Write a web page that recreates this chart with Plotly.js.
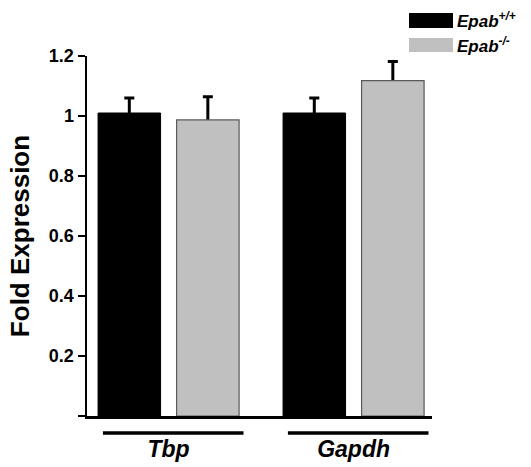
<!DOCTYPE html>
<html>
<head>
<meta charset="utf-8">
<script src="https://cdn.plot.ly/plotly-3.0.1.min.js"></script>
<style>html,body{margin:0;padding:0;background:#fff;}#chart{width:531px;height:467px;}</style>
</head>
<body>
<div id="chart"></div>
<script>
// ---- data ----
const genes = ['Tbp', 'Gapdh'];
const seriesNames = ['Epab<sup>+/+</sup>', 'Epab<sup>-/-</sup>'];
const wtMean = [1.01, 1.01];
const wtErr = [0.05, 0.05];
const koMean = [0.987, 1.118];
const koErr = [0.077, 0.064];
const yTickVals = [0, 0.2, 0.4, 0.6, 0.8, 1, 1.2];
const yTickText = ['', '0.2', '0.4', '0.6', '0.8', '1', '1.2'];

// ---- layout geometry (pixels) ----
const W = 531, H = 467;
const L = 87, R = 432, T = 56, B = 416;
const px = x => (x - L) / (R - L);
const py = y => (B - y) / (B - T);
const FONT = '"Liberation Sans", Arial, Helvetica, sans-serif';
const colors = ['#000000', '#c0c0c0'];
const lineColors = ['#000000', '#5a5a5a'];
const means = [wtMean, koMean];
const errs = [wtErr, koErr];

const traces = [];
// error bars first (transparent bars), so the visible bars hide their lower half
means.forEach((m, i) => {
  traces.push({type: 'bar', x: genes, y: m, name: seriesNames[i], offsetgroup: 'g' + i,
    marker: {color: 'rgba(0,0,0,0)', line: {width: 0}}, hoverinfo: 'skip',
    error_y: {type: 'data', array: errs[i], color: '#000', thickness: 3, width: 5}});
});
means.forEach((m, i) => {
  traces.push({type: 'bar', x: genes, y: m, name: seriesNames[i], offsetgroup: 'g' + i,
    marker: {color: colors[i], line: {color: lineColors[i], width: i ? 1.2 : 1}}});
});

const shapes = [];
const annotations = [];
// group underlines
genes.forEach((g, i) => {
  shapes.push({type: 'line', xref: 'x', yref: 'paper', x0: i - 0.355, x1: i + 0.405,
    y0: py(433), y1: py(433), line: {color: '#000', width: 3.5}});
});
// legend swatches + labels
const legY = [[13, 28], [38, 52]];
seriesNames.forEach((n, i) => {
  shapes.push({type: 'rect', xref: 'paper', yref: 'paper', x0: px(409), x1: px(453),
    y0: py(legY[i][1]), y1: py(legY[i][0]), fillcolor: colors[i], line: {width: 0}});
  annotations.push({xref: 'paper', yref: 'paper', x: px(455), y: py((legY[i][0] + legY[i][1]) / 2),
    xanchor: 'left', yanchor: 'middle', showarrow: false, text: '<b><i>' + n + '</i></b>',
    font: {family: FONT, size: 17, color: '#000'}});
});

const layout = {
  width: W, height: H,
  margin: {l: L, r: W - R, t: T, b: H - B, pad: 0},
  paper_bgcolor: '#fff', plot_bgcolor: '#fff',
  showlegend: false,
  barmode: 'group', bargap: 0.151, bargroupgap: 0.204,
  xaxis: {type: 'category', range: [-0.441, 1.424], showline: true, linecolor: '#000', linewidth: 2.5,
    ticks: '', showgrid: false, zeroline: false, ticklabelstandoff: 11,
    tickfont: {family: FONT, size: 23, color: '#000', weight: 'bold', style: 'italic'}},
  yaxis: {range: [0, 1.2], showline: true, linecolor: '#000', linewidth: 2.5,
    ticks: 'outside', ticklen: 7, tickwidth: 2, tickcolor: '#000',
    tickvals: yTickVals, ticktext: yTickText, showgrid: false, zeroline: false,
    tickfont: {family: FONT, size: 18, color: '#000', weight: 'bold'},
    title: {text: '<b>Fold Expression</b>', standoff: 12, font: {family: FONT, size: 26, color: '#000'}}},
  shapes: shapes,
  annotations: annotations,
  font: {family: FONT, color: '#000'}
};

Plotly.newPlot('chart', traces, layout, {displayModeBar: false, staticPlot: true});
</script>
</body>
</html>
